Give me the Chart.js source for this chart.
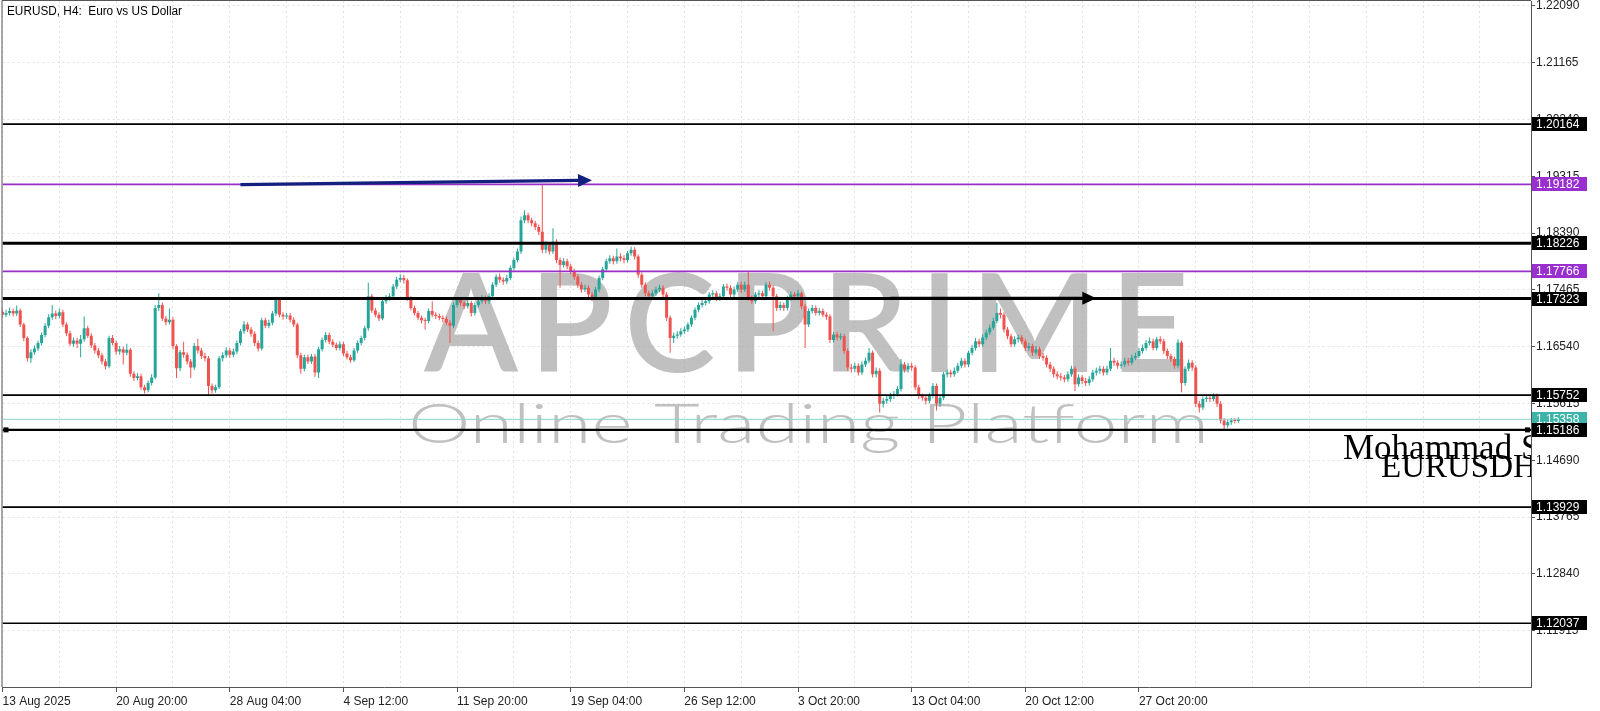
<!DOCTYPE html>
<html>
<head>
<meta charset="utf-8">
<title>EURUSD, H4</title>
<script src="https://cdn.jsdelivr.net/npm/chart.js@4.4.1/dist/chart.umd.min.js"></script>
<style>
  html, body { margin: 0; padding: 0; background: #fff; overflow: hidden; }
</style>
</head>
<body>
<canvas id="chart" width="1600" height="711"></canvas>
<script>
// EURUSD H4 - velas (una por cada 4 horas)
const firstOpen = 1.1711;

const closes = [
  1.1706, 1.1709, 1.1712, 1.1708, 1.1713, 1.1690, 1.1668, 1.1635, 1.1645, 1.1651, 1.1660, 1.1673, 1.1688, 1.1702, 1.1708, 1.1704,
  1.1710, 1.1690, 1.1676, 1.1659, 1.1664, 1.1659, 1.1666, 1.1684, 1.1672, 1.1656, 1.1648, 1.1640, 1.1630, 1.1622, 1.1668, 1.1660,
  1.1646, 1.1650, 1.1644, 1.1649, 1.1610, 1.1603, 1.1606, 1.1588, 1.1583, 1.1595, 1.1604, 1.1717, 1.1722, 1.1700, 1.1694, 1.1698,
  1.1655, 1.1619, 1.1645, 1.1641, 1.1630, 1.1620, 1.1655, 1.1648, 1.1639, 1.1635, 1.1590, 1.1583, 1.1588, 1.1635, 1.1640, 1.1648,
  1.1641, 1.1646, 1.1660, 1.1679, 1.1690, 1.1682, 1.1675, 1.1660, 1.1651, 1.1697, 1.1688, 1.1693, 1.1708, 1.1730, 1.1706, 1.1703,
  1.1705, 1.1698, 1.1690, 1.1640, 1.1618, 1.1637, 1.1630, 1.1638, 1.1612, 1.1650, 1.1665, 1.1673, 1.1662, 1.1657, 1.1652, 1.1658,
  1.1643, 1.1637, 1.1632, 1.1648, 1.1660, 1.1668, 1.1684, 1.1736, 1.1713, 1.1706, 1.1700, 1.1728, 1.1733, 1.1736, 1.1752, 1.1763,
  1.1766, 1.1762, 1.1733, 1.1717, 1.1709, 1.1701, 1.1697, 1.1696, 1.1712, 1.1706, 1.1704, 1.1701, 1.1699, 1.1693, 1.1688, 1.1722,
  1.1730, 1.1725, 1.1720, 1.1725, 1.1709, 1.1722, 1.1728, 1.1733, 1.1728, 1.1736, 1.1755, 1.1768, 1.1763, 1.1760, 1.1766, 1.1782,
  1.1795, 1.1809, 1.1860, 1.1868, 1.1860, 1.1855, 1.1849, 1.1841, 1.1812, 1.1820, 1.1809, 1.1825, 1.1795, 1.1787, 1.1793, 1.1785,
  1.1777, 1.1768, 1.1755, 1.1747, 1.1750, 1.1739, 1.1733, 1.1747, 1.1766, 1.1780, 1.1793, 1.1798, 1.1793, 1.1801, 1.1798, 1.1795,
  1.1806, 1.1812, 1.1801, 1.1771, 1.1755, 1.1741, 1.1736, 1.1741, 1.1747, 1.1750, 1.1739, 1.1701, 1.1668, 1.1672, 1.1674, 1.1679,
  1.1682, 1.1690, 1.1701, 1.1714, 1.1722, 1.1725, 1.1728, 1.1739, 1.1741, 1.1733, 1.1736, 1.1752, 1.1750, 1.1739, 1.1747, 1.1755,
  1.1747, 1.1755, 1.1733, 1.1728, 1.1739, 1.1741, 1.1736, 1.1755, 1.1750, 1.1736, 1.1717, 1.1722, 1.1717, 1.1733, 1.1739, 1.1736,
  1.1741, 1.1720, 1.1690, 1.1712, 1.1717, 1.1709, 1.1712, 1.1706, 1.1703, 1.1665, 1.1674, 1.1669, 1.1671, 1.1647, 1.1620, 1.1618,
  1.1623, 1.1612, 1.1625, 1.1631, 1.1644, 1.1609, 1.1615, 1.1561, 1.1566, 1.1569, 1.1574, 1.1577, 1.1585, 1.1625, 1.1617, 1.1623,
  1.1620, 1.1588, 1.1574, 1.1571, 1.1566, 1.1574, 1.1590, 1.1561, 1.1571, 1.1609, 1.1612, 1.1609, 1.1615, 1.1623, 1.1631, 1.1625,
  1.1644, 1.1652, 1.1663, 1.1658, 1.1669, 1.1677, 1.1685, 1.1696, 1.1709, 1.1706, 1.1682, 1.1671, 1.1658, 1.1666, 1.1669, 1.1663,
  1.1652, 1.1655, 1.1644, 1.1650, 1.1639, 1.1636, 1.1625, 1.1618, 1.1609, 1.1606, 1.1604, 1.1601, 1.1609, 1.1618, 1.1593, 1.1604,
  1.1598, 1.1595, 1.1601, 1.1612, 1.1615, 1.1618, 1.1612, 1.1618, 1.1631, 1.1628, 1.1623, 1.1625, 1.1631, 1.1628, 1.1636, 1.1639,
  1.1647, 1.1652, 1.1660, 1.1663, 1.1652, 1.1666, 1.1663, 1.1647, 1.1639, 1.1634, 1.1623, 1.1661, 1.1595, 1.1618, 1.1628, 1.1620,
  1.1561, 1.1555, 1.1569, 1.1571, 1.1569, 1.1574, 1.1561, 1.1534, 1.1526, 1.1531, 1.1534, 1.1533, 1.1536
];

const highs = [
  1.1716, 1.1714, 1.1718, 1.1716, 1.1721, 1.1716, 1.1693, 1.1671, 1.1650, 1.1656, 1.1664, 1.1677, 1.1692, 1.1707, 1.1722, 1.1713,
  1.1716, 1.1714, 1.1694, 1.1680, 1.1669, 1.1668, 1.1673, 1.1703, 1.1688, 1.1676, 1.1660, 1.1652, 1.1644, 1.1634, 1.1672, 1.1673,
  1.1664, 1.1655, 1.1654, 1.1659, 1.1652, 1.1614, 1.1611, 1.1610, 1.1592, 1.1599, 1.1609, 1.1722, 1.1741, 1.1726, 1.1704, 1.1716,
  1.1702, 1.1658, 1.1649, 1.1662, 1.1645, 1.1634, 1.1660, 1.1667, 1.1652, 1.1644, 1.1639, 1.1594, 1.1592, 1.1639, 1.1645, 1.1653,
  1.1652, 1.1651, 1.1664, 1.1683, 1.1696, 1.1694, 1.1686, 1.1679, 1.1664, 1.1701, 1.1701, 1.1698, 1.1712, 1.1735, 1.1734, 1.1710,
  1.1709, 1.1709, 1.1702, 1.1693, 1.1644, 1.1641, 1.1641, 1.1642, 1.1642, 1.1654, 1.1669, 1.1678, 1.1677, 1.1666, 1.1661, 1.1663,
  1.1662, 1.1647, 1.1641, 1.1652, 1.1664, 1.1672, 1.1688, 1.1758, 1.1740, 1.1717, 1.1710, 1.1732, 1.1738, 1.1741, 1.1756, 1.1768,
  1.1772, 1.1771, 1.1765, 1.1736, 1.1721, 1.1712, 1.1705, 1.1701, 1.1716, 1.1728, 1.1710, 1.1708, 1.1705, 1.1703, 1.1697, 1.1726,
  1.1735, 1.1734, 1.1729, 1.1730, 1.1729, 1.1726, 1.1733, 1.1738, 1.1737, 1.1741, 1.1759, 1.1772, 1.1773, 1.1767, 1.1771, 1.1786,
  1.1799, 1.1814, 1.1866, 1.1876, 1.1872, 1.1864, 1.1859, 1.1853, 1.1918, 1.1826, 1.1824, 1.1847, 1.1829, 1.1799, 1.1798, 1.1797,
  1.1789, 1.1781, 1.1772, 1.1759, 1.1755, 1.1754, 1.1743, 1.1751, 1.1770, 1.1784, 1.1797, 1.1803, 1.1802, 1.1814, 1.1806, 1.1803,
  1.1810, 1.1817, 1.1816, 1.1804, 1.1775, 1.1759, 1.1745, 1.1746, 1.1752, 1.1755, 1.1754, 1.1743, 1.1705, 1.1677, 1.1679, 1.1684,
  1.1687, 1.1694, 1.1705, 1.1718, 1.1726, 1.1730, 1.1733, 1.1743, 1.1746, 1.1745, 1.1741, 1.1756, 1.1757, 1.1754, 1.1752, 1.1759,
  1.1760, 1.1760, 1.1777, 1.1737, 1.1743, 1.1746, 1.1745, 1.1759, 1.1760, 1.1754, 1.1740, 1.1727, 1.1726, 1.1737, 1.1744, 1.1743,
  1.1746, 1.1744, 1.1724, 1.1716, 1.1722, 1.1721, 1.1717, 1.1716, 1.1710, 1.1707, 1.1678, 1.1678, 1.1676, 1.1675, 1.1651, 1.1626,
  1.1628, 1.1627, 1.1630, 1.1636, 1.1652, 1.1648, 1.1620, 1.1619, 1.1571, 1.1574, 1.1579, 1.1582, 1.1590, 1.1634, 1.1629, 1.1628,
  1.1628, 1.1624, 1.1592, 1.1578, 1.1575, 1.1579, 1.1595, 1.1594, 1.1576, 1.1613, 1.1617, 1.1616, 1.1620, 1.1628, 1.1636, 1.1635,
  1.1648, 1.1657, 1.1668, 1.1667, 1.1674, 1.1682, 1.1690, 1.1701, 1.1725, 1.1716, 1.1710, 1.1686, 1.1675, 1.1671, 1.1674, 1.1673,
  1.1667, 1.1660, 1.1659, 1.1655, 1.1654, 1.1644, 1.1640, 1.1629, 1.1622, 1.1614, 1.1611, 1.1608, 1.1614, 1.1623, 1.1622, 1.1609,
  1.1608, 1.1603, 1.1606, 1.1616, 1.1620, 1.1623, 1.1622, 1.1623, 1.1652, 1.1636, 1.1632, 1.1630, 1.1636, 1.1636, 1.1641, 1.1644,
  1.1652, 1.1657, 1.1665, 1.1669, 1.1667, 1.1670, 1.1671, 1.1667, 1.1651, 1.1643, 1.1638, 1.1666, 1.1664, 1.1622, 1.1633, 1.1632,
  1.1624, 1.1566, 1.1573, 1.1576, 1.1576, 1.1578, 1.1578, 1.1565, 1.1538, 1.1535, 1.1538, 1.1538, 1.1539
];

const lows = [
  1.1701, 1.1702, 1.1705, 1.1703, 1.1704, 1.1686, 1.1663, 1.1630, 1.1628, 1.1641, 1.1647, 1.1656, 1.1669, 1.1684, 1.1698, 1.1699,
  1.1700, 1.1686, 1.1671, 1.1655, 1.1654, 1.1652, 1.1637, 1.1662, 1.1668, 1.1652, 1.1643, 1.1635, 1.1625, 1.1617, 1.1619, 1.1656,
  1.1641, 1.1641, 1.1625, 1.1640, 1.1605, 1.1598, 1.1599, 1.1584, 1.1578, 1.1580, 1.1591, 1.1601, 1.1712, 1.1696, 1.1689, 1.1690,
  1.1650, 1.1603, 1.1614, 1.1636, 1.1625, 1.1603, 1.1616, 1.1643, 1.1634, 1.1630, 1.1575, 1.1578, 1.1579, 1.1585, 1.1630, 1.1636,
  1.1636, 1.1637, 1.1642, 1.1656, 1.1675, 1.1678, 1.1670, 1.1655, 1.1646, 1.1648, 1.1684, 1.1684, 1.1689, 1.1704, 1.1702, 1.1698,
  1.1699, 1.1694, 1.1686, 1.1635, 1.1610, 1.1614, 1.1626, 1.1626, 1.1605, 1.1603, 1.1646, 1.1661, 1.1658, 1.1653, 1.1648, 1.1648,
  1.1639, 1.1633, 1.1628, 1.1629, 1.1644, 1.1656, 1.1664, 1.1680, 1.1709, 1.1702, 1.1696, 1.1697, 1.1724, 1.1729, 1.1732, 1.1748,
  1.1759, 1.1757, 1.1729, 1.1713, 1.1705, 1.1697, 1.1692, 1.1682, 1.1692, 1.1702, 1.1699, 1.1697, 1.1694, 1.1689, 1.1660, 1.1684,
  1.1718, 1.1720, 1.1715, 1.1716, 1.1703, 1.1705, 1.1718, 1.1724, 1.1723, 1.1724, 1.1732, 1.1751, 1.1758, 1.1755, 1.1756, 1.1762,
  1.1778, 1.1791, 1.1805, 1.1855, 1.1855, 1.1850, 1.1844, 1.1836, 1.1806, 1.1806, 1.1804, 1.1805, 1.1790, 1.1750, 1.1783, 1.1780,
  1.1772, 1.1763, 1.1750, 1.1742, 1.1743, 1.1734, 1.1728, 1.1730, 1.1743, 1.1762, 1.1776, 1.1789, 1.1788, 1.1789, 1.1793, 1.1790,
  1.1791, 1.1802, 1.1796, 1.1766, 1.1750, 1.1736, 1.1731, 1.1732, 1.1737, 1.1743, 1.1735, 1.1696, 1.1644, 1.1660, 1.1667, 1.1670,
  1.1675, 1.1678, 1.1686, 1.1697, 1.1710, 1.1718, 1.1721, 1.1724, 1.1735, 1.1728, 1.1729, 1.1732, 1.1745, 1.1734, 1.1735, 1.1743,
  1.1742, 1.1743, 1.1729, 1.1723, 1.1724, 1.1735, 1.1731, 1.1732, 1.1745, 1.1679, 1.1712, 1.1713, 1.1712, 1.1713, 1.1729, 1.1731,
  1.1732, 1.1715, 1.1652, 1.1686, 1.1708, 1.1705, 1.1705, 1.1702, 1.1698, 1.1660, 1.1661, 1.1664, 1.1665, 1.1642, 1.1615, 1.1612,
  1.1613, 1.1607, 1.1608, 1.1621, 1.1627, 1.1604, 1.1604, 1.1547, 1.1555, 1.1561, 1.1564, 1.1569, 1.1573, 1.1581, 1.1612, 1.1612,
  1.1615, 1.1583, 1.1569, 1.1566, 1.1560, 1.1562, 1.1570, 1.1550, 1.1556, 1.1567, 1.1604, 1.1604, 1.1605, 1.1611, 1.1619, 1.1620,
  1.1621, 1.1640, 1.1648, 1.1653, 1.1654, 1.1665, 1.1673, 1.1681, 1.1692, 1.1700, 1.1677, 1.1666, 1.1653, 1.1654, 1.1661, 1.1658,
  1.1647, 1.1647, 1.1639, 1.1640, 1.1634, 1.1631, 1.1620, 1.1613, 1.1604, 1.1601, 1.1599, 1.1596, 1.1597, 1.1605, 1.1582, 1.1589,
  1.1593, 1.1590, 1.1591, 1.1597, 1.1607, 1.1610, 1.1607, 1.1608, 1.1614, 1.1623, 1.1618, 1.1618, 1.1621, 1.1623, 1.1624, 1.1632,
  1.1635, 1.1643, 1.1648, 1.1656, 1.1648, 1.1648, 1.1658, 1.1642, 1.1634, 1.1629, 1.1618, 1.1619, 1.1580, 1.1591, 1.1614, 1.1615,
  1.1556, 1.1547, 1.1551, 1.1564, 1.1564, 1.1565, 1.1556, 1.1529, 1.1520, 1.1522, 1.1527, 1.1529, 1.1530
];

// one label every 32 bars
const xTickLabels = ["13 Aug 2025", "20 Aug 20:00", "28 Aug 04:00", "4 Sep 12:00", "11 Sep 20:00",
  "19 Sep 04:00", "26 Sep 12:00", "3 Oct 20:00", "13 Oct 04:00", "20 Oct 12:00", "27 Oct 20:00"];
const yTicks = [1.22090, 1.21165, 1.20240, 1.19315, 1.18390, 1.17465, 1.16540,
  1.15615, 1.14690, 1.13765, 1.12840, 1.11915];

// horizontal levels drawn on the chart
const levels = [1.20164, 1.19182, 1.18226, 1.17766, 1.17323, 1.15752, 1.15186, 1.13929, 1.12037];
const levelKinds = ["thin", "purple", "thick", "purple", "thick", "thin", "mid", "thin", "thin"];
const bidPrice = 1.15358;

// arrows: [bar, price] start and end
const arrowFrom = [[67, 1.1918], [250, 1.1733]];
const arrowTo = [[166, 1.1925], [308, 1.1733]];

// ---- estilos ----
const bull = "#26a69a", bear = "#ef5350";
const levelStyle = {
  thin:   { color: "#000", width: 1.6, box: "#000" },
  mid:    { color: "#000", width: 2.2, box: "#000" },
  thick:  { color: "#000", width: 3, box: "#000" },
  purple: { color: "#9a2fc8", width: 1.8, box: "#9a2fd0" },
};
const arrowColors = ["#14207e", "#000"];

const opens = closes.map((c, i) => (i === 0 ? firstOpen : closes[i - 1]));
const candleColors = closes.map((c, i) => (c >= opens[i] ? bull : bear));

// draws text so its cap height and width fill the given box
function fitText(ctx, text, weight, family, left, right, top, baseline, spaced) {
  ctx.font = weight + " 100px " + family;
  const cap = ctx.measureText("E").actualBoundingBoxAscent || 72;
  const size = 100 * (baseline - top) / cap;
  ctx.font = weight + " " + size.toFixed(1) + "px " + family;
  const target = right - left;
  let w = ctx.measureText(text).width;
  if (spaced && "letterSpacing" in ctx) {
    const gap = (target - w) / (text.length - 1);
    ctx.letterSpacing = gap.toFixed(2) + "px";
    w = ctx.measureText(text).width - gap;
  }
  ctx.save();
  ctx.translate(left, baseline);
  ctx.scale(target / w, 1);
  ctx.fillText(text, 0, 0);
  ctx.restore();
  if ("letterSpacing" in ctx) ctx.letterSpacing = "0px";
}

function drawArrow(ctx, x1, y1, x2, y2, color, width, headLen, headHalf) {
  const ang = Math.atan2(y2 - y1, x2 - x1);
  ctx.strokeStyle = color;
  ctx.fillStyle = color;
  ctx.lineWidth = width;
  ctx.beginPath();
  ctx.moveTo(x1, y1);
  ctx.lineTo(x2 - headLen * Math.cos(ang), y2 - headLen * Math.sin(ang));
  ctx.stroke();
  ctx.save();
  ctx.translate(x2, y2);
  ctx.rotate(ang);
  ctx.beginPath();
  ctx.moveTo(0, 0);
  ctx.lineTo(-headLen, -headHalf);
  ctx.lineTo(-headLen, headHalf);
  ctx.closePath();
  ctx.fill();
  ctx.restore();
}

function axisBox(ctx, a, y, fill, text) {
  const yy = Math.round(y);
  ctx.fillStyle = fill;
  ctx.fillRect(a.right + 1, yy - 7, 55, 14);
  ctx.fillStyle = "#fff";
  ctx.font = "12px 'Liberation Sans', Arial, sans-serif";
  ctx.textAlign = "left";
  ctx.textBaseline = "middle";
  ctx.fillText(text, a.right + 5, yy + 0.5);
}

const mt5Overlay = {
  id: "mt5Overlay",
  beforeDatasetsDraw(chart) {
    const { ctx, chartArea: a } = chart;
    ctx.save();
    ctx.beginPath();
    ctx.rect(a.left, a.top, a.width, a.height);
    ctx.clip();
    ctx.fillStyle = "rgba(160,160,160,0.66)";
    ctx.textAlign = "left";
    ctx.textBaseline = "alphabetic";
    fitText(ctx, "APCPRIME", "600", "Lato, 'DejaVu Sans', sans-serif", 424, 1189, 272, 372, true);
    fitText(ctx, "Online Trading Platform", "300", "Lato, 'DejaVu Sans', sans-serif", 408, 1209, 404, 443, false);
    ctx.restore();
  },
  afterDatasetsDraw(chart) {
    const { ctx, chartArea: a, scales: { x, y } } = chart;
    ctx.save();
    ctx.beginPath();
    ctx.rect(a.left, a.top, a.width, a.height);
    ctx.clip();

    // bid line
    ctx.strokeStyle = "#8fd0c8";
    ctx.lineWidth = 1;
    const by = y.getPixelForValue(bidPrice);
    ctx.beginPath();
    ctx.moveTo(a.left, by);
    ctx.lineTo(a.right, by);
    ctx.stroke();

    levels.forEach((v, i) => {
      const st = levelStyle[levelKinds[i]];
      const py = y.getPixelForValue(v);
      ctx.strokeStyle = st.color;
      ctx.lineWidth = st.width;
      ctx.beginPath();
      ctx.moveTo(a.left, py);
      ctx.lineTo(a.right, py);
      ctx.stroke();
      if (levelKinds[i] === "mid") {
        ctx.fillStyle = "#000";
        ctx.fillRect(a.left + 1, py - 2.5, 5, 5);
        ctx.fillRect(a.right - 6, py - 2.5, 5, 5);
      }
    });

    arrowFrom.forEach((p, i) => {
      const q = arrowTo[i];
      drawArrow(ctx, x.getPixelForValue(p[0]), y.getPixelForValue(p[1]),
        x.getPixelForValue(q[0]), y.getPixelForValue(q[1]),
        arrowColors[i], i === 0 ? 3.2 : 3, 14, 6.5);
    });

    // author text
    ctx.fillStyle = "#000";
    ctx.textAlign = "left";
    ctx.textBaseline = "alphabetic";
    ctx.font = "35px 'Liberation Serif', 'Times New Roman', serif";
    ctx.fillText("Mohammad Saeed", a.right - 188, 459);
    ctx.font = "33px 'Liberation Serif', 'Times New Roman', serif";
    ctx.fillText("EURUSDH4", a.right - 150, 477);
    ctx.restore();
  },
  afterDraw(chart) {
    const { ctx, chartArea: a, scales: { y } } = chart;
    ctx.save();
    // frame left/top
    ctx.strokeStyle = "#555";
    ctx.lineWidth = 1;
    ctx.beginPath();
    ctx.moveTo(a.left - 0.5, a.bottom);
    ctx.lineTo(a.left - 0.5, 0.5);
    ctx.lineTo(a.right, 0.5);
    ctx.stroke();

    axisBox(ctx, a, y.getPixelForValue(bidPrice), "#3cb4aa", bidPrice.toFixed(5));
    levels.forEach((v, i) => {
      axisBox(ctx, a, y.getPixelForValue(v), levelStyle[levelKinds[i]].box, v.toFixed(5));
    });

    // title
    ctx.fillStyle = "#000";
    ctx.font = "12px 'Liberation Sans', Arial, sans-serif";
    ctx.textAlign = "left";
    ctx.textBaseline = "middle";
    const title = "EURUSD, H4:  Euro vs US Dollar";
    const tw = ctx.measureText(title).width;
    ctx.save();
    ctx.translate(7, 12);
    ctx.scale(175 / tw, 1);
    ctx.fillText(title, 0, 0);
    ctx.restore();
    ctx.restore();
  }
};

const idx = closes.map((c, i) => i);

new Chart(document.getElementById("chart"), {
  type: "bar",
  data: {
    datasets: [
      {
        label: "wicks",
        data: idx.map(i => ({ x: i, y: [lows[i], highs[i]] })),
        backgroundColor: candleColors,
        barThickness: 1,
        order: 2,
      },
      {
        label: "bodies",
        data: idx.map(i => ({ x: i, y: [opens[i], closes[i]] })),
        backgroundColor: candleColors,
        barThickness: 3,
        minBarLength: 1,
        order: 1,
      },
    ],
  },
  options: {
    responsive: false,
    animation: false,
    devicePixelRatio: 1,
    events: [],
    layout: { padding: { left: 2.5, top: 1, right: 0, bottom: 0 } },
    datasets: { bar: { grouped: false, borderWidth: 0, inflateAmount: 0 } },
    plugins: { legend: { display: false }, tooltip: { enabled: false } },
    scales: {
      x: {
        type: "linear",
        min: 0,
        max: 430.4,
        offset: false,
        afterBuildTicks: s => {
          const t = [];
          for (let v = 0; v <= 430; v += 16) t.push({ value: v });
          s.ticks = t;
        },
        afterFit: s => { s.height = 24; s.paddingLeft = 0; s.paddingRight = 0; },
        ticks: {
          autoSkip: false,
          maxRotation: 0,
          align: "start",
          padding: 2,
          color: "#222",
          font: { family: "'Liberation Sans', Arial, sans-serif", size: 12 },
          callback: v => (v % 32 === 0 && xTickLabels[v / 32]) ? xTickLabels[v / 32] : "",
        },
        grid: {
          offset: false,
          color: "#e2e2e2",
          tickLength: 5,
          tickColor: c => (c.tick && c.tick.value % 32 === 0 && xTickLabels[c.tick.value / 32]) ? "#555" : "rgba(0,0,0,0)",
        },
        border: { color: "#555", dash: [2, 3] },
      },
      y: {
        position: "right",
        min: 1.11000,
        max: 1.22168,
        afterBuildTicks: s => { s.ticks = yTicks.map(v => ({ value: v })); },
        afterFit: s => { s.width = 69; s.paddingTop = 0; s.paddingBottom = 0; },
        ticks: {
          autoSkip: false,
          padding: 1,
          color: "#222",
          font: { family: "'Liberation Sans', Arial, sans-serif", size: 12 },
          callback: v => v.toFixed(5),
        },
        grid: { color: "#e2e2e2", tickLength: 4, tickColor: "#555" },
        border: { color: "#555", dash: [2, 3] },
      },
    },
  },
  plugins: [mt5Overlay],
});
</script>
</body>
</html>
